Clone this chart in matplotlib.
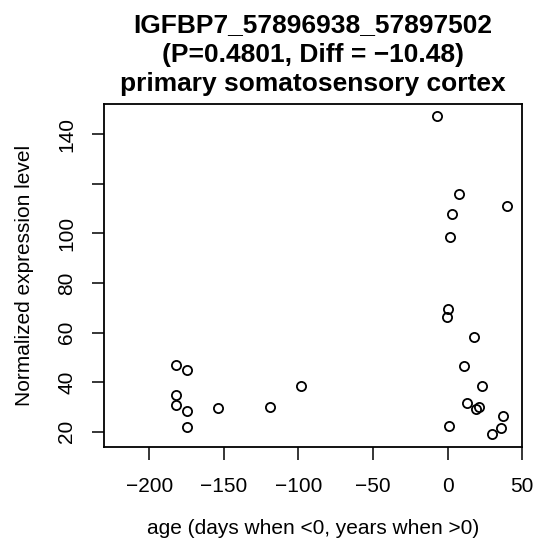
import matplotlib
matplotlib.use("Agg")
import matplotlib.pyplot as plt

plt.rcParams['font.family'] = ['Liberation Sans', 'DejaVu Sans']

age = [-7.1, 7.6, 39.5, 2.7, 1.6, 0.4, -0.2, 17.9, 10.9, 23.0, 12.7, 18.8, 21.0,
       36.8, 0.7, 35.9, 29.7,
       -181.9, -175.0, -181.9, -181.9, -175.0, -175.0, -154.2, -119.0, -98.2]
expr = [147.2, 115.8, 111.2, 107.7, 98.5, 69.6, 66.4, 58.2, 46.4, 38.4, 31.4, 29.3, 29.8,
        26.5, 22.4, 21.3, 19.2,
        46.9, 45.0, 34.8, 30.8, 28.3, 21.9, 29.4, 30.1, 38.4]

xticks = [-200, -150, -100, -50, 0, 50]
xticklabels = ['\u2212200', '\u2212150', '\u2212100', '\u221250', '0', '50']
yticks = [20, 40, 60, 80, 100, 120, 140]
yticklabels = ['20', '40', '60', '80', '100', '', '140']

title_lines = ['IGFBP7_57896938_57897502',
               '(P=0.4801, Diff = \u221210.48)',
               'primary somatosensory cortex']
xlabel = 'age (days when <0, years when >0)'
ylabel = 'Normalized expression level'

W, H = 536, 555
fig = plt.figure(figsize=(W / 100, H / 100), dpi=100)
ax = fig.add_axes([104 / W, 1 - 446.7 / H, (522.3 - 104) / W, (446.7 - 104) / H])

ax.plot(age, expr, linestyle='none', marker='o', markersize=6.6,
        markerfacecolor='none', markeredgecolor='black', markeredgewidth=1.3)

ax.set_xlim(-230.3, 50.0)
ax.set_ylim(13.95, 152.2)
ax.set_xticks(xticks)
ax.set_xticklabels(xticklabels, fontsize=15)
ax.set_yticks(yticks)
ax.set_yticklabels(yticklabels, fontsize=15, rotation=90, va='center')
ax.tick_params(axis='both', direction='out', length=9, width=1.1, colors='black')
ax.tick_params(axis='x', pad=13)
ax.tick_params(axis='y', pad=11)
for s in ax.spines.values():
    s.set_linewidth(1.3)

fig.text(0.5 * (104 + 522.3) / W, 1 - 528 / H, xlabel, ha='center', va='center', fontsize=15)
fig.text(25 / W, 1 - 275 / H, ylabel, ha='center', va='center', fontsize=15, rotation=90)

cx = 0.5 * (104 + 522.3) / W
for line, base in zip(title_lines, [32, 62, 91]):
    fig.text(cx, 1 - base / H, line, ha='center', va='baseline', fontsize=19, fontweight='bold')

fig.savefig('out.png', dpi=100)
